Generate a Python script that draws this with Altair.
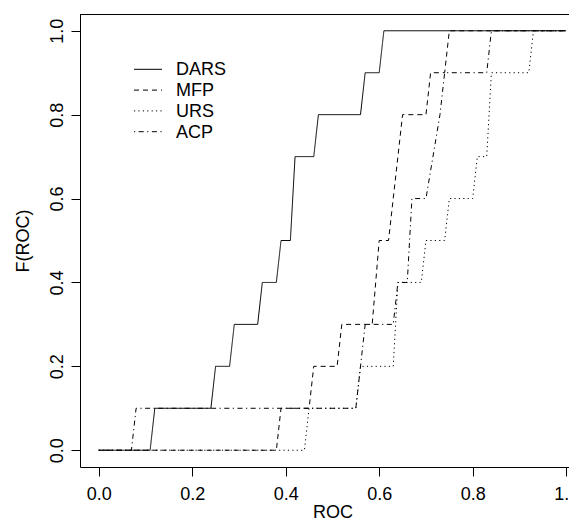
import altair as alt
import pandas as pd

# ---- data (step-function vertices) ----
series_names = ["DARS", "MFP", "URS", "ACP"]

DARS_x = [0.0, 0.11, 0.12, 0.24, 0.25, 0.28, 0.29, 0.34, 0.35, 0.38, 0.39, 0.41, 0.42, 0.46, 0.47, 0.56, 0.57, 0.60, 0.61, 1.0]
DARS_y = [0.0, 0.0, 0.1, 0.1, 0.2, 0.2, 0.3, 0.3, 0.4, 0.4, 0.5, 0.5, 0.7, 0.7, 0.8, 0.8, 0.9, 0.9, 1.0, 1.0]

MFP_x = [0.0, 0.38, 0.39, 0.45, 0.46, 0.51, 0.52, 0.585, 0.60, 0.62, 0.65, 0.70, 0.71, 0.74, 0.75, 1.0]
MFP_y = [0.0, 0.0, 0.1, 0.1, 0.2, 0.2, 0.3, 0.3, 0.5, 0.5, 0.8, 0.8, 0.9, 0.9, 1.0, 1.0]

URS_x = [0.0, 0.44, 0.45, 0.55, 0.56, 0.63, 0.64, 0.69, 0.70, 0.74, 0.75, 0.80, 0.81, 0.83, 0.84, 0.92, 0.93, 1.0]
URS_y = [0.0, 0.0, 0.1, 0.1, 0.2, 0.2, 0.4, 0.4, 0.5, 0.5, 0.6, 0.6, 0.7, 0.7, 0.9, 0.9, 1.0, 1.0]

ACP_x = [0.0, 0.07, 0.08, 0.55, 0.57, 0.63, 0.64, 0.66, 0.67, 0.70, 0.73, 0.74, 0.83, 0.84, 1.0]
ACP_y = [0.0, 0.0, 0.1, 0.1, 0.3, 0.3, 0.4, 0.4, 0.6, 0.6, 0.8, 0.9, 0.9, 1.0, 1.0]

x_ticks = [0.0, 0.2, 0.4, 0.6, 0.8, 1.0]
y_ticks = [0.0, 0.2, 0.4, 0.6, 0.8, 1.0]

# ---- styles ----
dashes = {
    "DARS": [1, 0],
    "MFP": [5, 4],
    "URS": [1.2, 3.2],
    "ACP": [1.2, 3.5, 5, 3.5],
}
FONT = "Liberation Sans"
FS = 18
W, H = 489, 453
PAD_T, PAD_B, PAD_L = 6, 55, 72
UNIT = 467.5  # pixels per unit on the x scale

frames = []
for name, xs, ys in [("DARS", DARS_x, DARS_y), ("MFP", MFP_x, MFP_y),
                     ("URS", URS_x, URS_y), ("ACP", ACP_x, ACP_y)]:
    frames.append(pd.DataFrame({"series": name, "x": xs, "y": ys, "i": range(len(xs))}))
df = pd.concat(frames, ignore_index=True)

xscale = alt.Scale(domain=[-0.04, -0.04 + W / UNIT], nice=False, zero=False)
yscale = alt.Scale(domain=[-0.04, 1.04], nice=False, zero=False)

lines = alt.Chart(df).mark_line(color="black", strokeWidth=1, clip=True).encode(
    x=alt.X("x:Q", scale=xscale,
            axis=alt.Axis(values=x_ticks, format=".1f", title="ROC",
                          titleX=0.54 * UNIT, titleAnchor="middle",
                          titleBaseline="alphabetic", titleY=50)),
    y=alt.Y("y:Q", scale=yscale,
            axis=alt.Axis(values=y_ticks, format=".1f", title="F(ROC)",
                          labelAngle=270, labelAlign="center", labelBaseline="alphabetic",
                          titleX=-52, titleY=H / 2, titleAnchor="middle",
                          titleBaseline="alphabetic", titleAngle=270)),
    detail="series:N",
    order="i:Q",
    strokeDash=alt.StrokeDash("series:N",
                              scale=alt.Scale(domain=series_names,
                                              range=[dashes[s] for s in series_names]),
                              legend=None),
)

# top edge of the box (right edge lies outside the window)
top_rule = alt.Chart(pd.DataFrame({"a": [0]})).mark_rule(color="black", strokeWidth=1).encode(
    x=alt.value(0), x2=alt.value(W + 20), y=alt.value(0.5)
)

layers = [lines, top_rule]
row0, row_step = 55.3, 20.8
for k, name in enumerate(series_names):
    ry = row0 + k * row_step
    d1 = pd.DataFrame({"s": [name]})
    layers.append(
        alt.Chart(d1).mark_rule(color="black", strokeWidth=1, strokeDash=dashes[name]).encode(
            x=alt.value(54), x2=alt.value(82), y=alt.value(ry)
        )
    )
    layers.append(
        alt.Chart(d1).mark_text(align="left", baseline="middle", font=FONT, fontSize=FS,
                                color="black").encode(
            x=alt.value(96), y=alt.value(ry + 1), text="s:N"
        )
    )

chart = alt.layer(*layers).properties(
    width=W, height=H,
    autosize=alt.AutoSizeParams(type="none"),
    padding={"left": PAD_L, "top": PAD_T, "right": 0, "bottom": PAD_B},
).configure_view(stroke=None).configure_axis(
    domain=True, domainColor="black", domainWidth=1,
    ticks=True, tickColor="black", tickSize=9, tickWidth=1,
    grid=False,
    labelFont=FONT, labelFontSize=FS, labelColor="black", labelPadding=9,
    titleFont=FONT, titleFontSize=FS, titleFontWeight="normal", titleColor="black",
    labelOverlap=False, labelFlush=False, labelBound=False,
)

chart.save("out.html", embed_options={"renderer": "svg", "actions": False})
